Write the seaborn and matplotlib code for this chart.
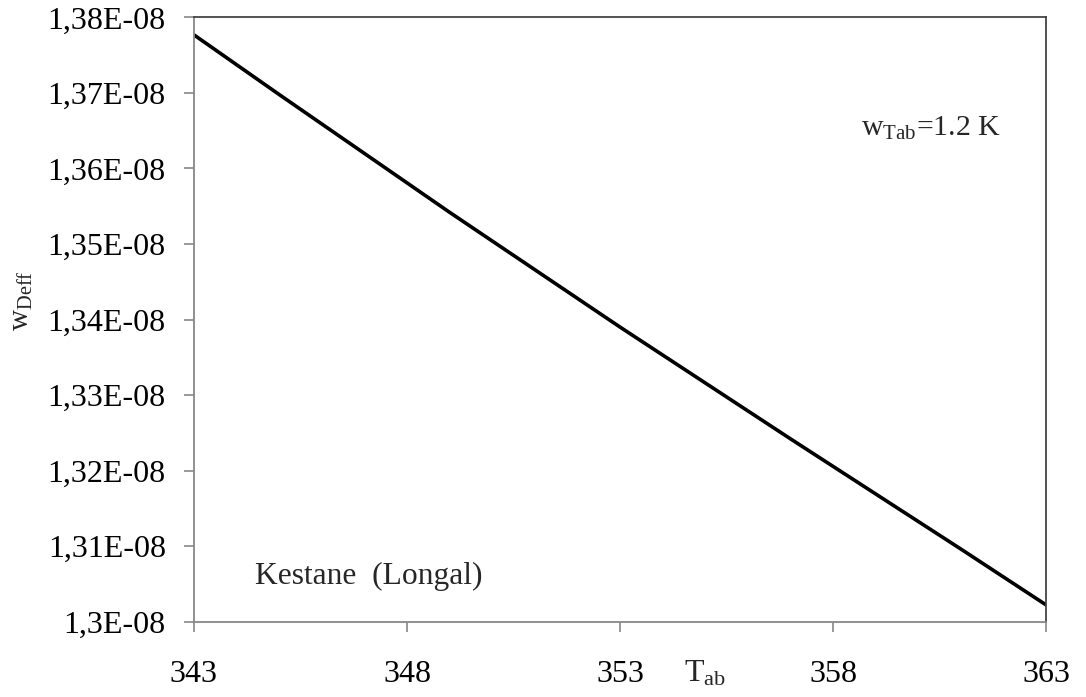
import matplotlib
matplotlib.use("Agg")
import matplotlib.pyplot as plt
import seaborn as sns
import pandas as pd

# Data
T_ab = [343, 345, 347, 349, 351, 353, 355, 357, 359, 361, 363]
w_deff = [1.3777e-08, 1.3698e-08, 1.3620e-08, 1.3542e-08, 1.3466e-08, 1.3390e-08,
          1.3316e-08, 1.3242e-08, 1.3169e-08, 1.3096e-08, 1.3022e-08]
x_ticks = [343, 348, 353, 358, 363]
y_ticks = [1.30e-08, 1.31e-08, 1.32e-08, 1.33e-08, 1.34e-08, 1.35e-08, 1.36e-08, 1.37e-08, 1.38e-08]
y_tick_labels = ["1,3E-08", "1,31E-08", "1,32E-08", "1,33E-08", "1,34E-08",
                 "1,35E-08", "1,36E-08", "1,37E-08", "1,38E-08"]

sns.set_theme(style="white")
plt.rcParams["font.family"] = ["Liberation Serif", "DejaVu Serif"]
plt.rcParams["mathtext.fontset"] = "custom"
plt.rcParams["mathtext.rm"] = "Liberation Serif"
plt.rcParams["mathtext.it"] = "Liberation Serif:italic"

df = pd.DataFrame({"T": T_ab, "w": w_deff})

fig = plt.figure(figsize=(10.86, 6.97), dpi=100)
ax = fig.add_axes([0.1785, 0.108, 0.785, 0.867])
sns.lineplot(data=df, x="T", y="w", ax=ax, color="black", linewidth=2.6)

ax.set_xlim(343, 363)
ax.set_ylim(1.30e-08, 1.38e-08)
ax.set_xticks(x_ticks)
ax.set_xticklabels([str(t) for t in x_ticks])
ax.set_yticks(y_ticks)
ax.set_yticklabels(y_tick_labels)

ax.tick_params(axis="both", which="major", direction="out", length=7.2, width=1.2,
               color="#888888", labelsize=23, labelcolor="black")
ax.tick_params(axis="y", pad=13)
ax.tick_params(axis="x", pad=20)
ax.tick_params(left=True, bottom=True)

for side in ["left", "bottom"]:
    ax.spines[side].set_color("#888888")
    ax.spines[side].set_linewidth(1.3)
for side in ["top", "right"]:
    ax.spines[side].set_color("#444444")
    ax.spines[side].set_linewidth(1.3)

ax.set_xlabel(r"T$_{\mathregular{ab}}$", fontsize=23)
ax.xaxis.set_label_coords(0.5995, -0.062)
ax.set_ylabel(r"w$_{\mathregular{Deff}}$", fontsize=21)
ax.yaxis.set_label_coords(-0.186, 0.532)

ax.text(0.0718, 0.0756, "Kestane  (Longal)", transform=ax.transAxes,
        fontsize=22.7, va="center", ha="left")
ax.text(0.782, 0.804, r"w$_{\mathregular{Tab}}$=1.2 K", transform=ax.transAxes,
        fontsize=21.5, va="baseline", ha="left")

fig.savefig("out.png", dpi=100, facecolor="white")
